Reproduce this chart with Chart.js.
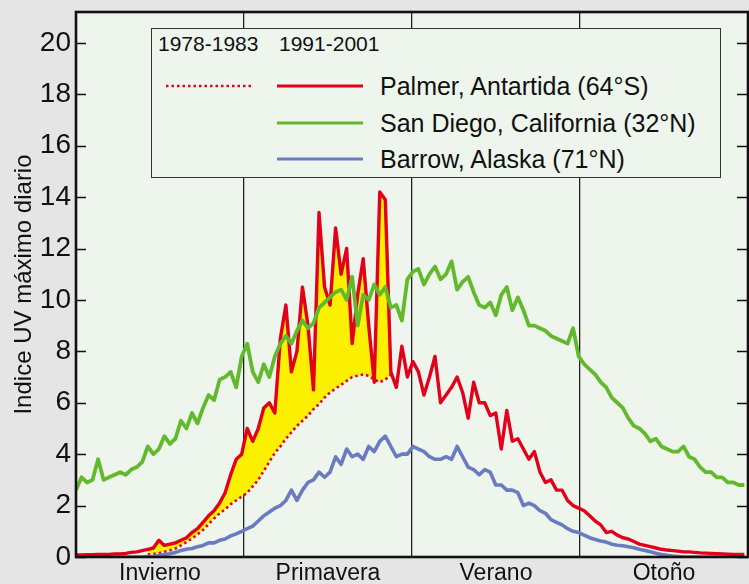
<!DOCTYPE html>
<html>
<head>
<meta charset="utf-8">
<script src="https://cdn.jsdelivr.net/npm/chart.js@4.4.1/dist/chart.umd.min.js"></script>
<style>
  html, body { margin:0; padding:0; background:#e5e5e5; }
  #wrap { position:relative; width:749px; height:584px; overflow:hidden; font-family:"Liberation Sans", Arial, Helvetica, sans-serif; color:#111; }
  #legend { position:absolute; left:151px; top:28px; width:568px; height:148px; border:1.5px solid #333; background:#eef5ed; }
  #legend span { position:absolute; white-space:nowrap; }
  #legend svg { position:absolute; }
</style>
</head>
<body>
<div id="wrap">
  <canvas id="c" width="749" height="584"></canvas>
  <div id="legend"></div>
</div>
<script>
// ---- data ----
const SEASONS = ["Invierno", "Primavera", "Verano", "Otoño"];
const YEAR_DAYS = 365;
const DAY_STEP = 3;                 // one sample every 3 days
const Y_TICKS = [0, 2, 4, 6, 8, 10, 12, 14, 16, 18, 20];
const Y_TITLE = "Indice UV máximo diario";
const PERIODS = ["1978-1983", "1991-2001"];
const SERIES_NAMES = ["Palmer, Antartida (64°S)", "San Diego, California (32°N)", "Barrow, Alaska (71°N)"];

const SAN_DIEGO = [2.6,3.1,2.9,3.0,3.8,3.0,3.1,3.2,3.3,3.2,3.4,3.5,3.7,4.3,4.0,4.2,4.7,4.4,4.6,5.3,
  5.0,5.6,5.2,5.8,6.3,6.1,6.9,7.0,7.2,6.6,7.8,8.3,7.2,6.8,7.5,7.0,7.8,8.3,8.6,8.3,
  8.8,9.2,8.9,9.1,9.7,9.9,10.1,10.3,10.4,10.0,10.9,9.0,10.2,10.0,10.6,10.2,10.5,9.7,9.8,9.2,
  10.8,11.1,11.2,10.6,11.0,11.3,10.8,11.0,11.5,10.4,10.7,10.9,10.3,9.8,9.7,9.9,9.4,10.2,10.5,9.6,
  10.1,9.6,9.0,9.0,8.9,8.8,8.6,8.5,8.4,8.3,8.9,7.8,7.5,7.3,7.1,6.8,6.6,6.2,6.0,5.8,
  5.4,5.1,5.0,4.8,4.5,4.6,4.3,4.2,4.1,4.1,4.3,3.9,3.8,3.5,3.3,3.3,3.1,3.1,2.9,2.9,
  2.8,2.8];

const PALMER_1991_2001 = [0.08,0.08,0.09,0.09,0.1,0.1,0.1,0.12,0.12,0.14,0.18,0.2,0.25,0.3,0.35,0.65,0.45,0.5,0.55,0.65,
  0.75,0.95,1.1,1.35,1.6,1.8,2.1,2.5,3.2,3.8,4.0,5.0,4.5,5.0,5.8,6.0,5.6,8.5,9.8,7.2,
  8.0,10.5,9.0,6.5,13.4,10.5,9.8,12.8,11.0,12.0,8.3,10.2,11.6,9.0,6.8,14.2,13.9,7.2,6.6,8.2,
  7.0,7.6,7.2,6.3,7.0,7.8,6.0,6.3,6.6,7.0,6.4,5.4,6.8,6.0,6.0,5.5,5.6,4.2,5.7,4.5,
  4.6,4.2,3.8,4.1,3.3,2.9,3.0,2.6,2.6,2.2,2.0,1.9,1.8,1.6,1.4,1.25,0.95,1.0,0.85,0.75,
  0.7,0.6,0.5,0.45,0.4,0.35,0.3,0.27,0.25,0.23,0.2,0.2,0.18,0.16,0.15,0.14,0.13,0.12,0.11,0.1,
  0.1,0.1];

const BARROW = [0,0,0,0,0,0,0,0,0,0,0,0,0,0.02,0.03,0.06,0.1,0.13,0.18,0.25,
  0.3,0.33,0.4,0.45,0.55,0.55,0.65,0.7,0.82,0.9,1.0,1.1,1.2,1.4,1.6,1.75,1.9,2.0,2.2,2.6,
  2.2,2.6,2.9,3.0,3.3,3.1,3.3,3.9,3.6,4.2,3.9,4.0,3.8,4.3,4.1,4.5,4.7,4.3,3.9,4.0,
  4.0,4.3,4.2,4.1,3.9,3.8,3.8,3.9,3.8,4.3,3.9,3.5,3.4,3.2,3.4,3.3,2.8,2.8,2.6,2.6,
  2.5,2.0,2.1,2.0,1.8,1.7,1.45,1.35,1.25,1.1,1.0,0.95,0.85,0.75,0.68,0.62,0.58,0.5,0.46,0.44,
  0.4,0.36,0.3,0.25,0.2,0.15,0.1,0.07,0.04,0.02,0,0,0,0,0,0,0,0,0,0,
  0,0];

// Palmer 1978-1983 mean (dotted), available from sample index 13 (day 39) to 57 (day 171)
const PALMER_1978_1983_START = 13;
const PALMER_1978_1983 = [0.1,0.12,0.15,0.2,0.26,0.33,0.45,0.58,0.72,0.88,1.05,1.28,1.5,1.7,1.85,
  2.05,2.2,2.35,2.5,2.75,3.0,3.35,3.7,4.05,4.3,4.6,4.85,5.1,5.3,5.5,
  5.75,5.95,6.2,6.4,6.55,6.7,6.85,7.0,7.05,7.1,7.05,6.9,6.8,6.9,7.1];

// ---- styles ----
const RED = "#e2001a", GREEN = "#62b92b", BLUE = "#6a7bbf", YELLOW = "#fbf000";
const PLOT_BG = "#eef5ed";
const FONT = '"Liberation Sans", Arial, Helvetica, sans-serif';

// ---- build ----
const day = i => i * DAY_STEP;
const toPts = (arr, start = 0) => arr.map((v, i) => ({ x: day(i + start), y: v }));
const SEASON_BOUNDS = [1, 2, 3].map(k => k * YEAR_DAYS / 4);
const SEASON_CENTERS = [0, 1, 2, 3].map(k => (k + 0.5) * YEAR_DAYS / 4);

const fillTop = toPts(PALMER_1991_2001.slice(PALMER_1978_1983_START, PALMER_1978_1983_START + PALMER_1978_1983.length), PALMER_1978_1983_START);

const datasets = [
  { label: SERIES_NAMES[1], data: toPts(SAN_DIEGO), borderColor: GREEN, borderWidth: 3.8, order: 1 },
  { label: SERIES_NAMES[0] + " " + PERIODS[1], data: toPts(PALMER_1991_2001), borderColor: RED, borderWidth: 3.4, order: 2 },
  { label: SERIES_NAMES[2], data: toPts(BARROW), borderColor: BLUE, borderWidth: 3.6, order: 3 },
  { label: SERIES_NAMES[0] + " " + PERIODS[0], data: toPts(PALMER_1978_1983, PALMER_1978_1983_START), borderColor: RED, borderWidth: 2.6, borderDash: [2.5, 3], order: 4 },
  { label: "diferencia", data: fillTop, borderWidth: 0, borderColor: "rgba(0,0,0,0)", order: 5,
    fill: { target: 3, above: YELLOW, below: "rgba(0,0,0,0)" } }
];
datasets.forEach(d => { d.pointRadius = 0; d.tension = 0; d.borderJoinStyle = "round"; d.fill = d.fill || false; });

const framePlugin = {
  id: "frame",
  beforeDraw(chart) {
    const { ctx, chartArea: a } = chart;
    ctx.save();
    ctx.fillStyle = PLOT_BG;
    ctx.fillRect(a.left, a.top, a.right - a.left, a.bottom - a.top);
    ctx.restore();
  },
  afterDatasetsDraw(chart) {
    const { ctx, chartArea: a } = chart;
    const ys = chart.scales.y;
    ctx.save();
    ctx.strokeStyle = "#111";
    ctx.lineWidth = 1.6;
    ys.ticks.forEach(t => {
      const py = Math.round(ys.getPixelForValue(t.value)) + 0.5;
      ctx.beginPath();
      ctx.moveTo(a.left, py); ctx.lineTo(a.left + 10, py);
      ctx.moveTo(a.right - 11, py); ctx.lineTo(a.right, py);
      ctx.stroke();
    });
    ctx.lineWidth = 2.6;
    ctx.strokeRect(a.left, a.top, a.right - a.left, a.bottom - a.top);
    ctx.restore();
  }
};

new Chart(document.getElementById("c"), {
  type: "line",
  data: { datasets },
  plugins: [framePlugin],
  options: {
    responsive: false,
    animation: false,
    events: [],
    layout: { padding: { top: 12, right: 1, left: 0, bottom: 0 } },
    plugins: { legend: { display: false }, tooltip: { enabled: false } },
    scales: {
      x: {
        type: "linear", min: 0, max: YEAR_DAYS, position: "bottom",
        afterBuildTicks: s => { s.ticks = SEASON_CENTERS.map(v => ({ value: v })); },
        afterFit: s => { s.height = 27; s.paddingLeft = 0; s.paddingRight = 0; },
        grid: { display: false, drawTicks: false },
        border: { display: false },
        ticks: { callback: (v, i) => SEASONS[i], font: { size: 23, family: FONT }, color: "#111", padding: 3, maxRotation: 0, autoSkip: false }
      },
      xg: {
        type: "linear", min: 0, max: YEAR_DAYS, position: "top",
        afterBuildTicks: s => { s.ticks = SEASON_BOUNDS.map(v => ({ value: v })); },
        afterFit: s => { s.height = 0; s.paddingLeft = 0; s.paddingRight = 0; },
        grid: { drawTicks: false, color: "#222", lineWidth: 1.3 },
        border: { display: false },
        ticks: { display: false }
      },
      y: {
        type: "linear", min: 0, max: 21.2,
        afterBuildTicks: s => { s.ticks = Y_TICKS.map(v => ({ value: v })); },
        afterFit: s => { s.width = 76; s.paddingTop = 0; s.paddingBottom = 0; },
        grid: { display: false, drawTicks: false, tickLength: 0 },
        border: { display: false },
        ticks: { font: { size: 28, family: FONT }, color: "#111", padding: 5 },
        title: { display: true, text: Y_TITLE, font: { size: 24, family: FONT }, color: "#111", padding: { top: 10, bottom: 0 } }
      }
    }
  }
});

// ---- legend (HTML) ----
const lg = document.getElementById("legend");
function addText(txt, left, cy, size) {
  const s = document.createElement("span");
  s.textContent = txt;
  s.style.left = left + "px";
  s.style.top = (cy - size * 0.6) + "px";
  s.style.fontSize = size + "px";
  s.style.lineHeight = (size * 1.2) + "px";
  lg.appendChild(s);
}
function addLine(left, cy, color, dashed) {
  const ns = "http://www.w3.org/2000/svg";
  const svg = document.createElementNS(ns, "svg");
  svg.setAttribute("width", 86); svg.setAttribute("height", 6);
  svg.style.left = left + "px"; svg.style.top = (cy - 3) + "px";
  const l = document.createElementNS(ns, "line");
  l.setAttribute("x1", 0); l.setAttribute("x2", 86); l.setAttribute("y1", 3); l.setAttribute("y2", 3);
  l.setAttribute("stroke", color); l.setAttribute("stroke-width", dashed ? 2.6 : 3);
  if (dashed) l.setAttribute("stroke-dasharray", "2.5 3");
  svg.appendChild(l);
  lg.appendChild(svg);
}
addText(PERIODS[0], 6, 15, 21);
addText(PERIODS[1], 127, 15, 21);
const rows = [
  { name: SERIES_NAMES[0], color: RED, dotted: true, cy: 57 },
  { name: SERIES_NAMES[1], color: GREEN, dotted: false, cy: 94 },
  { name: SERIES_NAMES[2], color: BLUE, dotted: false, cy: 130 }
];
rows.forEach(r => {
  if (r.dotted) addLine(14, r.cy, r.color, true);
  addLine(125, r.cy, r.color, false);
  addText(r.name, 228, r.cy, 25);
});
</script>
</body>
</html>
